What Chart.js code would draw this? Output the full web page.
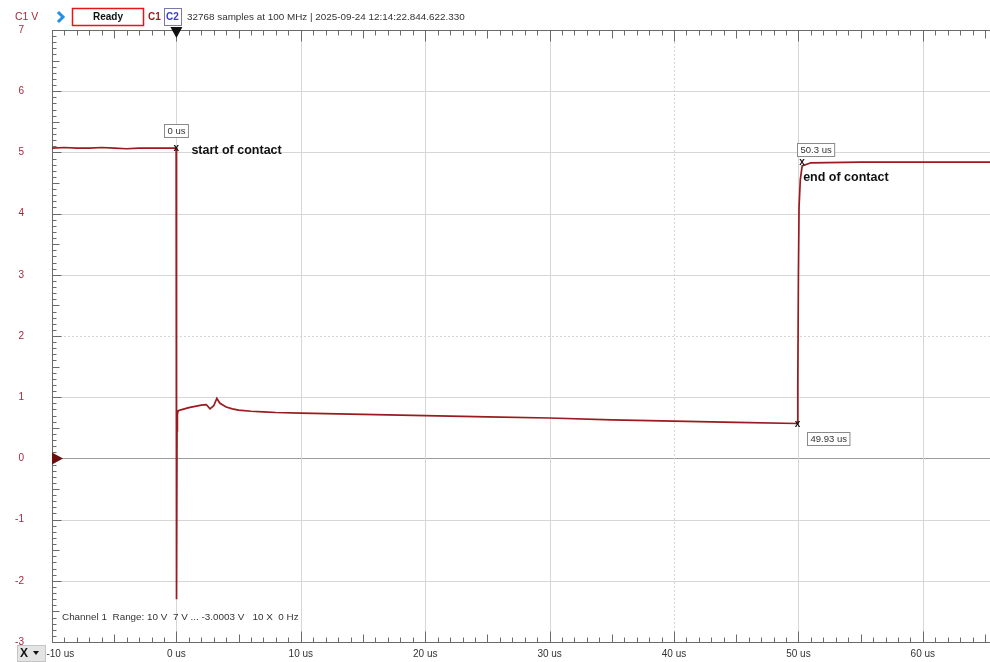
<!DOCTYPE html>
<html>
<head>
<meta charset="utf-8">
<script src="https://cdn.jsdelivr.net/npm/chart.js@4.4.1/dist/chart.umd.min.js"></script>
<style>
  html, body { margin: 0; padding: 0; background: #ffffff; }
  #wrap { position: relative; width: 990px; height: 662px; overflow: hidden; }
  canvas { display: block; }
</style>
</head>
<body>
<div id="wrap"><canvas id="scope" width="990" height="662"></canvas></div>
<script>
// Channel 1 capture: time in microseconds, voltage in volts
const timeUs = [
  -10, -9, -8, -7, -6, -5, -4, -3, -2, -1, -0.02,
  0, 0.02, 0.05, 0.08, 0.15, 0.5, 1.0, 1.5, 2.0, 2.4, 2.7, 3.0, 3.25, 3.5,
  4.0, 4.5, 5, 6, 7, 8, 10, 12, 15, 20, 25, 30, 35, 40, 45, 49.9,
  49.95, 50.0, 50.05, 50.15, 50.3, 51, 55, 60, 65.4
];
const channel1V = [
  5.07, 5.08, 5.07, 5.07, 5.08, 5.07, 5.06, 5.07, 5.07, 5.07, 5.07,
  5.05, -2.30, 0.45, 0.72, 0.78, 0.80, 0.83, 0.85, 0.87, 0.88, 0.81, 0.86, 0.98, 0.90,
  0.84, 0.81, 0.79, 0.77, 0.76, 0.75, 0.74, 0.73, 0.72, 0.70, 0.68, 0.66, 0.63, 0.61, 0.59, 0.57,
  1.20, 3.00, 4.10, 4.55, 4.78, 4.83, 4.84, 4.84, 4.84
];

// Axis range and labelled ticks
const timeRange = [-10, 65.4];
const voltRange = [-3, 7];
const xTickValues = [-10, 0, 10, 20, 30, 40, 50, 60];
const yTickValues = [-3, -2, -1, 0, 1, 2, 3, 4, 5, 6, 7];

// Cursor readouts placed on the trace
const cursorTimes = [0, 50.3, 49.93];
const cursorVolts = [5.07, 4.84, 0.56];
const cursorLabels = ['0 us', '50.3 us', '49.93 us'];
const eventNotes = ['start of contact', 'end of contact'];

const headerText = '32768 samples at 100 MHz | 2025-09-24 12:14:22.844.622.330';
const infoText = 'Channel 1  Range: 10 V  7 V ... -3.0003 V   10 X  0 Hz';

const FONT = '"Liberation Sans", Arial, sans-serif';
const TRACE = '#9a1b1f';
const AXIS_RED = '#a8283a';

// Grid, rulers and markers drawn against the chart's own scales
const scopeDecor = {
  id: 'scopeDecor',
  beforeDatasetsDraw(chart) {
    const { ctx, chartArea: a, scales: { x, y } } = chart;
    ctx.save();
    ctx.lineWidth = 1;
    // horizontal grid
    yTickValues.forEach(v => {
      const py = Math.round(y.getPixelForValue(v)) + 0.5;
      if (v === 7 || v === -3) return;
      ctx.beginPath();
      ctx.setLineDash(v === 2 ? [2, 2] : []);
      ctx.strokeStyle = v === 0 ? '#9c9c9c' : '#d6d6d6';
      ctx.moveTo(a.left, py); ctx.lineTo(a.right, py); ctx.stroke();
    });
    // vertical grid
    xTickValues.forEach(t => {
      if (t === -10) return;
      const px = Math.round(x.getPixelForValue(t)) + 0.5;
      ctx.beginPath();
      ctx.setLineDash(t === 40 ? [2, 2] : []);
      ctx.strokeStyle = '#d6d6d6';
      ctx.moveTo(px, a.top); ctx.lineTo(px, a.bottom); ctx.stroke();
    });
    ctx.setLineDash([]);

    // rulers: time along top and bottom, voltage along left
    ctx.strokeStyle = '#6a6a6a';
    const top = Math.round(a.top) + 0.5, bot = Math.round(a.bottom) + 0.5, left = Math.round(a.left) + 0.5;
    ctx.beginPath();
    ctx.moveTo(a.left, top); ctx.lineTo(a.right, top);
    ctx.moveTo(a.left, bot); ctx.lineTo(a.right, bot);
    ctx.moveTo(left, a.top); ctx.lineTo(left, a.bottom);
    ctx.stroke();
    ctx.beginPath();
    for (let t = Math.ceil(timeRange[0]); t <= timeRange[1]; t++) {
      const px = Math.round(x.getPixelForValue(t)) + 0.5;
      const len = t % 10 === 0 ? 11 : (t % 5 === 0 ? 8 : 5);
      ctx.moveTo(px, top); ctx.lineTo(px, top + len);
      ctx.moveTo(px, bot); ctx.lineTo(px, bot - len);
    }
    for (let k = voltRange[0] * 10; k <= voltRange[1] * 10; k++) {
      const py = Math.round(y.getPixelForValue(k / 10)) + 0.5;
      const len = k % 10 === 0 ? 9 : (k % 5 === 0 ? 7 : 4);
      ctx.moveTo(left, py); ctx.lineTo(left + len, py);
    }
    ctx.stroke();
    ctx.restore();
  },
  afterDraw(chart) {
    const { ctx, chartArea: a, scales: { x, y } } = chart;
    ctx.save();

    // trigger marker at 0 us
    const tx = x.getPixelForValue(0);
    ctx.fillStyle = '#111';
    ctx.beginPath();
    ctx.moveTo(tx - 6, a.top - 3); ctx.lineTo(tx + 6, a.top - 3); ctx.lineTo(tx, a.top + 8);
    ctx.closePath(); ctx.fill();

    // channel zero marker
    const zy = y.getPixelForValue(0);
    ctx.fillStyle = '#6e0f0f';
    ctx.beginPath();
    ctx.moveTo(a.left, zy - 6); ctx.lineTo(a.left + 11, zy); ctx.lineTo(a.left, zy + 6);
    ctx.closePath(); ctx.fill();

    // cursor crosses with readout boxes
    const boxOffset = [[-12, -24], [-5, -19], [9, 8]];
    cursorTimes.forEach((t, i) => {
      const px = x.getPixelForValue(t), py = y.getPixelForValue(cursorVolts[i]);
      ctx.font = 'bold 10px ' + FONT;
      ctx.fillStyle = '#111';
      ctx.textAlign = 'center'; ctx.textBaseline = 'middle';
      ctx.fillText('x', px, py);
      ctx.font = '9.5px ' + FONT;
      const w = ctx.measureText(cursorLabels[i]).width + 6;
      const bx = Math.round(px + boxOffset[i][0]) + 0.5, by = Math.round(py + boxOffset[i][1]) + 0.5;
      ctx.fillStyle = '#fff';
      ctx.fillRect(bx, by, w, 13);
      ctx.strokeStyle = '#8a8a8a';
      ctx.strokeRect(bx, by, w, 13);
      ctx.fillStyle = '#333';
      ctx.textAlign = 'left';
      ctx.fillText(cursorLabels[i], bx + 3, by + 7);
    });

    // event notes
    ctx.font = 'bold 12.5px ' + FONT;
    ctx.fillStyle = '#111';
    ctx.textAlign = 'left'; ctx.textBaseline = 'middle';
    ctx.fillText(eventNotes[0], x.getPixelForValue(cursorTimes[0]) + 15, y.getPixelForValue(cursorVolts[0]) + 2);
    ctx.fillText(eventNotes[1], x.getPixelForValue(cursorTimes[1]) + 1, y.getPixelForValue(cursorVolts[1]) + 15);

    // header bar
    ctx.textBaseline = 'middle';
    ctx.font = '10.5px ' + FONT;
    ctx.fillStyle = AXIS_RED;
    ctx.fillText('C1 V', 15, 17);
    // blue chevron
    ctx.strokeStyle = '#1f8fe8'; ctx.lineWidth = 3;
    ctx.beginPath(); ctx.moveTo(58, 12); ctx.lineTo(63, 17); ctx.lineTo(58, 22); ctx.stroke();
    // status box
    ctx.lineWidth = 1.5; ctx.strokeStyle = '#e3161c';
    ctx.strokeRect(72.5, 8.5, 71, 17);
    ctx.fillStyle = '#111'; ctx.font = 'bold 10px ' + FONT; ctx.textAlign = 'center';
    ctx.fillText('Ready', 108, 17.5);
    ctx.textAlign = 'left';
    ctx.fillStyle = '#9a1b1f'; ctx.font = 'bold 10px ' + FONT;
    ctx.fillText('C1', 148, 17.5);
    ctx.lineWidth = 1; ctx.strokeStyle = '#7a7aa0';
    ctx.strokeRect(164.5, 8.5, 17, 17);
    ctx.fillStyle = '#3b3bd8';
    ctx.fillText('C2', 166, 17.5);
    ctx.fillStyle = '#333'; ctx.font = '9.9px ' + FONT;
    ctx.fillText(headerText, 187, 17.5);

    // channel info line
    ctx.fillStyle = '#333'; ctx.font = '9.9px ' + FONT;
    ctx.fillText(infoText, 62, 617);

    // time-axis selector box
    ctx.fillStyle = '#e4e4e4';
    ctx.fillRect(17, 645, 29, 17);
    ctx.strokeStyle = '#c4c4c4';
    ctx.strokeRect(17.5, 645.5, 28, 16);
    ctx.fillStyle = '#111'; ctx.font = 'bold 12px ' + FONT;
    ctx.fillText('X', 20, 654);
    ctx.beginPath(); ctx.moveTo(33, 651); ctx.lineTo(39, 651); ctx.lineTo(36, 655); ctx.closePath(); ctx.fill();
    ctx.restore();
  }
};

new Chart(document.getElementById('scope'), {
  type: 'line',
  data: {
    datasets: [{
      data: timeUs.map((t, i) => ({ x: t, y: channel1V[i] })),
      borderColor: TRACE,
      borderWidth: 1.7,
      pointRadius: 0,
      tension: 0,
      fill: false
    }]
  },
  options: {
    responsive: false,
    devicePixelRatio: 1,
    animation: false,
    events: [],
    layout: { padding: { top: 30, right: 0, bottom: 0, left: 0 } },
    plugins: { legend: { display: false }, tooltip: { enabled: false } },
    scales: {
      x: {
        type: 'linear',
        min: timeRange[0], max: timeRange[1],
        afterFit: s => { s.height = 20; s.paddingLeft = 0; s.paddingRight = 0; },
        afterBuildTicks: s => { s.ticks = xTickValues.map(v => ({ value: v })); },
        grid: { display: false, drawTicks: false },
        border: { display: false },
        ticks: {
          padding: 6,
          maxRotation: 0,
          autoSkip: false,
          color: '#333',
          font: { family: FONT, size: 10 },
          callback: v => (v === -10 ? '      ' : '') + v + ' us'
        }
      },
      y: {
        type: 'linear',
        min: voltRange[0], max: voltRange[1],
        afterFit: s => { s.width = 52; s.paddingTop = 0; s.paddingBottom = 0; },
        afterBuildTicks: s => { s.ticks = yTickValues.map(v => ({ value: v })); },
        grid: { display: false, drawTicks: false },
        border: { display: false },
        ticks: {
          padding: 28,
          autoSkip: false,
          color: AXIS_RED,
          font: { family: FONT, size: 10 }
        }
      }
    }
  },
  plugins: [scopeDecor]
});
</script>
</body>
</html>
